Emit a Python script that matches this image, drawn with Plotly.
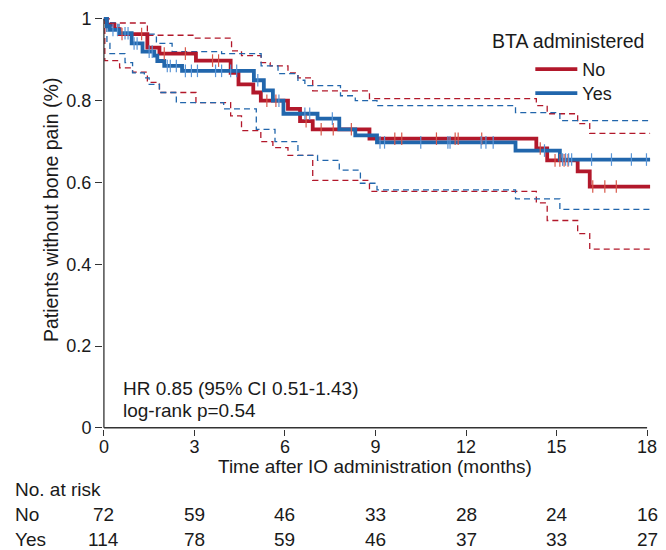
import plotly.graph_objects as go
import numpy as np

# ---------------- data ----------------
no_time = [0, 0.1, 0.35, 0.52, 1.44, 1.84, 3.05, 4.2, 4.46, 4.95, 5.2, 6.1, 6.5, 6.92, 8.8, 14.33, 14.69, 15.7, 16.1, 18.1]
no_surv = [1.0, 0.986, 0.975, 0.963, 0.93, 0.915, 0.898, 0.868, 0.84, 0.82, 0.80, 0.78, 0.75, 0.73, 0.707, 0.683, 0.654, 0.627, 0.59, 0.59]

yes_time = [0, 0.1, 0.2, 0.5, 0.92, 1.28, 1.67, 1.77, 2.0, 2.59, 4.97, 5.3, 5.6, 5.95, 7.08, 7.8, 8.33, 9.05, 13.64, 15.11, 18.1]
yes_surv = [1.0, 0.982, 0.973, 0.965, 0.94, 0.92, 0.91, 0.897, 0.885, 0.873, 0.85, 0.825, 0.80, 0.768, 0.756, 0.73, 0.715, 0.698, 0.678, 0.656, 0.656]

no_up_time = [0, 0.2, 1.44, 2.98, 4.23, 4.56, 5.21, 5.51, 6.1, 6.43, 6.92, 8.8, 14.33, 14.69, 15.7, 16.1, 18.1]
no_up_surv = [1.0, 0.99, 0.96, 0.953, 0.922, 0.91, 0.893, 0.885, 0.868, 0.856, 0.824, 0.805, 0.788, 0.768, 0.744, 0.72, 0.72]

no_lo_time = [0, 0.03, 0.52, 0.95, 1.44, 1.84, 3.05, 4.2, 4.56, 5.2, 5.6, 6.1, 6.92, 8.8, 14.33, 14.69, 15.7, 16.1, 18.1]
no_lo_surv = [1.0, 0.898, 0.88, 0.87, 0.845, 0.82, 0.795, 0.763, 0.727, 0.70, 0.685, 0.666, 0.605, 0.578, 0.55, 0.507, 0.475, 0.437, 0.437]

yes_up_time = [0, 0.1, 0.5, 1.74, 2.26, 3.9, 5.21, 5.77, 6.43, 6.66, 7.84, 8.33, 9.05, 13.64, 15.11, 18.1]
yes_up_surv = [1.0, 0.99, 0.963, 0.94, 0.92, 0.915, 0.885, 0.866, 0.85, 0.837, 0.812, 0.80, 0.788, 0.771, 0.751, 0.751]

yes_lo_time = [0, 0.1, 0.2, 0.7, 0.95, 1.34, 1.5, 1.84, 2.4, 3.97, 5.05, 5.67, 6.43, 7.08, 7.8, 8.5, 9.05, 13.64, 15.11, 18.1]
yes_lo_surv = [1.0, 0.94, 0.915, 0.893, 0.868, 0.856, 0.84, 0.82, 0.795, 0.78, 0.73, 0.70, 0.666, 0.654, 0.63, 0.598, 0.582, 0.56, 0.534, 0.534]

no_cens = [0.6, 1.25, 2.0, 2.7, 3.6, 3.8, 5.4, 5.7, 6.7, 7.2, 7.6, 8.2, 9.64, 9.87, 11.02,
           11.64, 11.74, 12.52, 14.46, 14.95, 15.11, 15.25, 15.38, 16.2, 16.6, 16.98]
yes_cens = [0.3, 0.45, 0.7, 0.8, 1.0, 1.1, 1.5, 1.6, 2.1, 2.2, 2.4, 2.7, 2.9, 3.1, 3.7, 3.9,
            4.2, 4.4, 5.1, 5.8, 6.66, 6.82, 7.57, 9.15, 9.3, 10.5, 11.4, 11.47, 12.5, 12.66,
            12.9, 14.6, 15.2, 15.3, 15.4, 15.5, 16.16, 16.82, 17.48, 17.98]

tick_months = [0, 3, 6, 9, 12, 15, 18]
risk_no = [72, 59, 46, 33, 28, 24, 16]
risk_yes = [114, 78, 59, 46, 37, 33, 27]
y_ticks = [0, 0.2, 0.4, 0.6, 0.8, 1]
y_labels = ["0", "0.2", "0.4", "0.6", "0.8", "1"]

RED = "#B2182B"
BLUE = "#2166AC"
FONT = "Liberation Sans, Arial, sans-serif"
TXT = "#1a1a1a"


def step_at(times, surv, t):
    idx = np.searchsorted(np.array(times), t, side="right") - 1
    return surv[idx]


fig = go.Figure()

for t, s, c in [(no_up_time, no_up_surv, RED), (no_lo_time, no_lo_surv, RED),
                (yes_up_time, yes_up_surv, BLUE), (yes_lo_time, yes_lo_surv, BLUE)]:
    fig.add_trace(go.Scatter(x=t, y=s, mode="lines", line=dict(color=c, width=1.3, dash="6px,4px", shape="hv"),
                             showlegend=False, hoverinfo="skip"))

fig.add_trace(go.Scatter(x=no_time, y=no_surv, mode="lines", name="No", legend="legend",
                         line=dict(color=RED, width=3.8, shape="hv")))
fig.add_trace(go.Scatter(x=yes_time, y=yes_surv, mode="lines", name="Yes", legend="legend2",
                         line=dict(color=BLUE, width=3.8, shape="hv")))

fig.add_trace(go.Scatter(x=no_cens, y=[step_at(no_time, no_surv, t) for t in no_cens], mode="markers",
                         marker=dict(symbol="line-ns-open", size=9, color="#D8584A",
                                     line=dict(width=1.2, color="#D8584A")),
                         showlegend=False, hoverinfo="skip"))
fig.add_trace(go.Scatter(x=yes_cens, y=[step_at(yes_time, yes_surv, t) for t in yes_cens], mode="markers",
                         marker=dict(symbol="line-ns-open", size=9, color="#5A95D6",
                                     line=dict(width=1.2, color="#5A95D6")),
                         showlegend=False, hoverinfo="skip"))

# axis lines
fig.add_shape(type="line", xref="x", yref="y", x0=0, x1=0, y0=0, y1=1, line=dict(color="#333", width=1.3))
fig.add_shape(type="line", xref="x", yref="y", x0=0, x1=18, y0=0, y1=0, line=dict(color="#333", width=1.3))


def py(p):
    return (429 - p) / 416


def txt(text, x, y, xref="paper", xanchor="left", size=19, angle=0):
    return dict(text=text, xref=xref, yref="paper", x=x, y=y, xanchor=xanchor, yanchor="middle",
                showarrow=False, textangle=angle, font=dict(size=size, color=TXT, family=FONT))


ann = [
    txt("HR 0.85 (95% CI 0.51-1.43)", 0.56, py(388), xref="x"),
    txt("log-rank p=0.54", 0.56, py(410), xref="x"),
    txt("Time after IO administration (months)", 9.0, py(467), xref="x", xanchor="center"),
    txt("Patients without bone pain (%)", (50 - 103) / 554, py(209), xanchor="center", size=19.5, angle=-90),
    txt("BTA administered", (573 - 103) / 554, py(40), xanchor="center", size=19.5),
    txt("No. at risk", (12 - 103) / 554, py(490)),
    txt("No", (12 - 103) / 554, py(515)),
    txt("Yes", (12 - 103) / 554, py(540)),
]
for m, a, b in zip(tick_months, risk_no, risk_yes):
    ann.append(txt(str(a), m, py(515), xref="x", xanchor="center"))
    ann.append(txt(str(b), m, py(540), xref="x", xanchor="center"))

leg_common = dict(xanchor="left", yanchor="top", bgcolor="rgba(0,0,0,0)",
                  font=dict(size=18, family=FONT, color=TXT), itemwidth=42, tracegroupgap=0)

fig.update_layout(
    width=666, height=550,
    margin=dict(l=103, r=9, t=13, b=121),
    paper_bgcolor="white", plot_bgcolor="white",
    font=dict(family=FONT, color=TXT, size=18),
    showlegend=True,
    legend=dict(x=(535 - 103) / 554, y=py(50), **leg_common),
    legend2=dict(x=(535 - 103) / 554, y=py(74), **leg_common),
    annotations=ann,
    xaxis=dict(range=[-0.03, 18.13], tickvals=tick_months, ticks="outside", ticklen=6, tickwidth=1.3,
               tickcolor="#333", showgrid=False, zeroline=False, showline=False, ticklabelstandoff=-5,
               tickfont=dict(size=18, family=FONT, color=TXT)),
    yaxis=dict(range=[-0.003, 1.012], tickvals=y_ticks, ticktext=y_labels, ticks="outside", ticklen=7,
               tickwidth=1.3, tickcolor="#333", showgrid=False, zeroline=False, showline=False,
               tickfont=dict(size=18, family=FONT, color=TXT)),
)

fig.write_html("out.html", post_script="document.body.style.margin='0';",
               config={"displayModeBar": False})
